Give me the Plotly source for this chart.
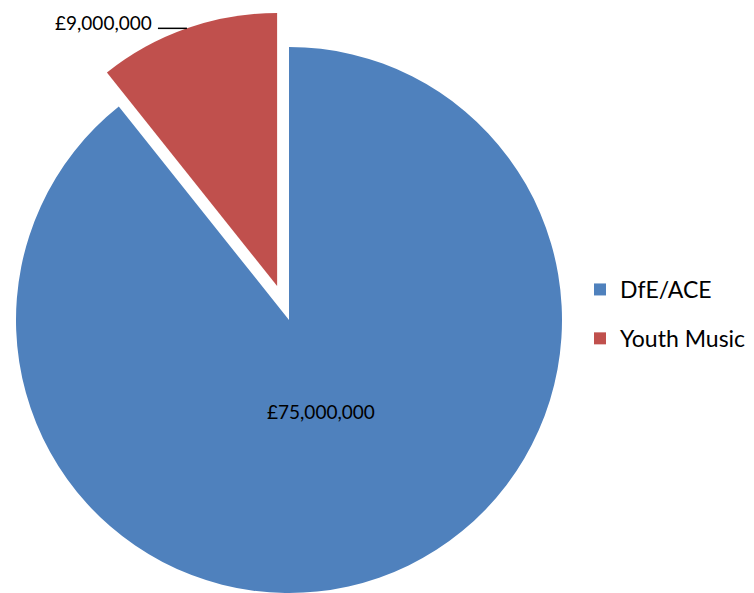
import math
import plotly.graph_objects as go

# ---- data ----
labels = ["DfE/ACE", "Youth Music"]
values = [75000000, 9000000]
colors = ["#4F81BD", "#C0504D"]
value_text = [f"£{v:,}" for v in values]

# ---- geometry / layout settings ----
W, H = 754, 593
R = 273            # pie radius in px
CX, CY = 289, 320  # pie centre in px (from top-left)
EXPLODE = 36       # px offset of the exploded Youth Music slice
LABEL_R = 0.355    # inside label distance (fraction of radius)
FONT = "Lato"
TRANSPARENT = "rgba(0,0,0,0)"

total = sum(values)
mid0 = (values[0] / 2) / total * 2 * math.pi                   # bisector of DfE/ACE
mid1 = (values[0] + values[1] / 2) / total * 2 * math.pi       # bisector of Youth Music
ECX = CX + math.sin(mid1) * EXPLODE
ECY = CY - math.cos(mid1) * EXPLODE


def dom(cx, cy, r):
    return dict(
        x=[max(0, (cx - r) / W), min(1, (cx + r) / W)],
        y=[max(0, 1 - (cy + r) / H), min(1, 1 - (cy - r) / H)],
    )


fig = go.Figure()

# legend-only entries (tiny pies hidden under the main blue slice)
for i, g in enumerate(["g1", "g2"]):
    fig.add_trace(go.Pie(
        labels=[labels[i]], values=[values[i]],
        marker=dict(colors=[colors[i]]),
        legendgroup=g, showlegend=True,
        textinfo="none", hoverinfo="skip",
        domain=dom(400, 480, 0.5), sort=False,
    ))

# main pie (DfE/ACE visible)
fig.add_trace(go.Pie(
    labels=labels, values=values,
    marker=dict(colors=[colors[0], TRANSPARENT], line=dict(width=0)),
    sort=False, direction="clockwise", rotation=0,
    textinfo="none",
    showlegend=False, domain=dom(CX, CY, R),
))

# exploded Youth Music slice
fig.add_trace(go.Pie(
    labels=labels, values=values,
    marker=dict(colors=[TRANSPARENT, colors[1]], line=dict(width=0)),
    sort=False, direction="clockwise", rotation=0,
    textinfo="none", showlegend=False,
    domain=dom(ECX, ECY, R),
))

# inside data label for DfE/ACE
lx = CX + LABEL_R * R * math.sin(mid0)
ly = CY - LABEL_R * R * math.cos(mid0)
fig.add_annotation(xref="paper", yref="paper", x=lx / W, y=1 - ly / H,
                   xanchor="center", yanchor="middle", showarrow=False,
                   text=value_text[0],
                   font=dict(family=FONT, size=19, color="black"))

# outside label with leader line for Youth Music
px = ECX + R * math.sin(mid1)
py = ECY - R * math.cos(mid1)
fig.add_shape(type="line", xref="paper", yref="paper",
              x0=(px - 29) / W, x1=px / W, y0=1 - py / H, y1=1 - py / H,
              line=dict(color="black", width=1.5))
fig.add_annotation(xref="paper", yref="paper",
                   x=(px - 33) / W, y=1 - (py - 6) / H,
                   xanchor="right", yanchor="middle", showarrow=False,
                   text=value_text[1],
                   font=dict(family=FONT, size=19, color="black"))

fig.update_layout(
    width=W, height=H,
    margin=dict(l=0, r=0, t=0, b=0),
    paper_bgcolor="white", plot_bgcolor="white",
    showlegend=True,
    legend=dict(x=580 / W, xanchor="left", y=1 - 314 / H, yanchor="middle",
                font=dict(family=FONT, size=23, color="black"),
                tracegroupgap=16, bgcolor="rgba(0,0,0,0)"),
)

fig.write_html("out.html")
